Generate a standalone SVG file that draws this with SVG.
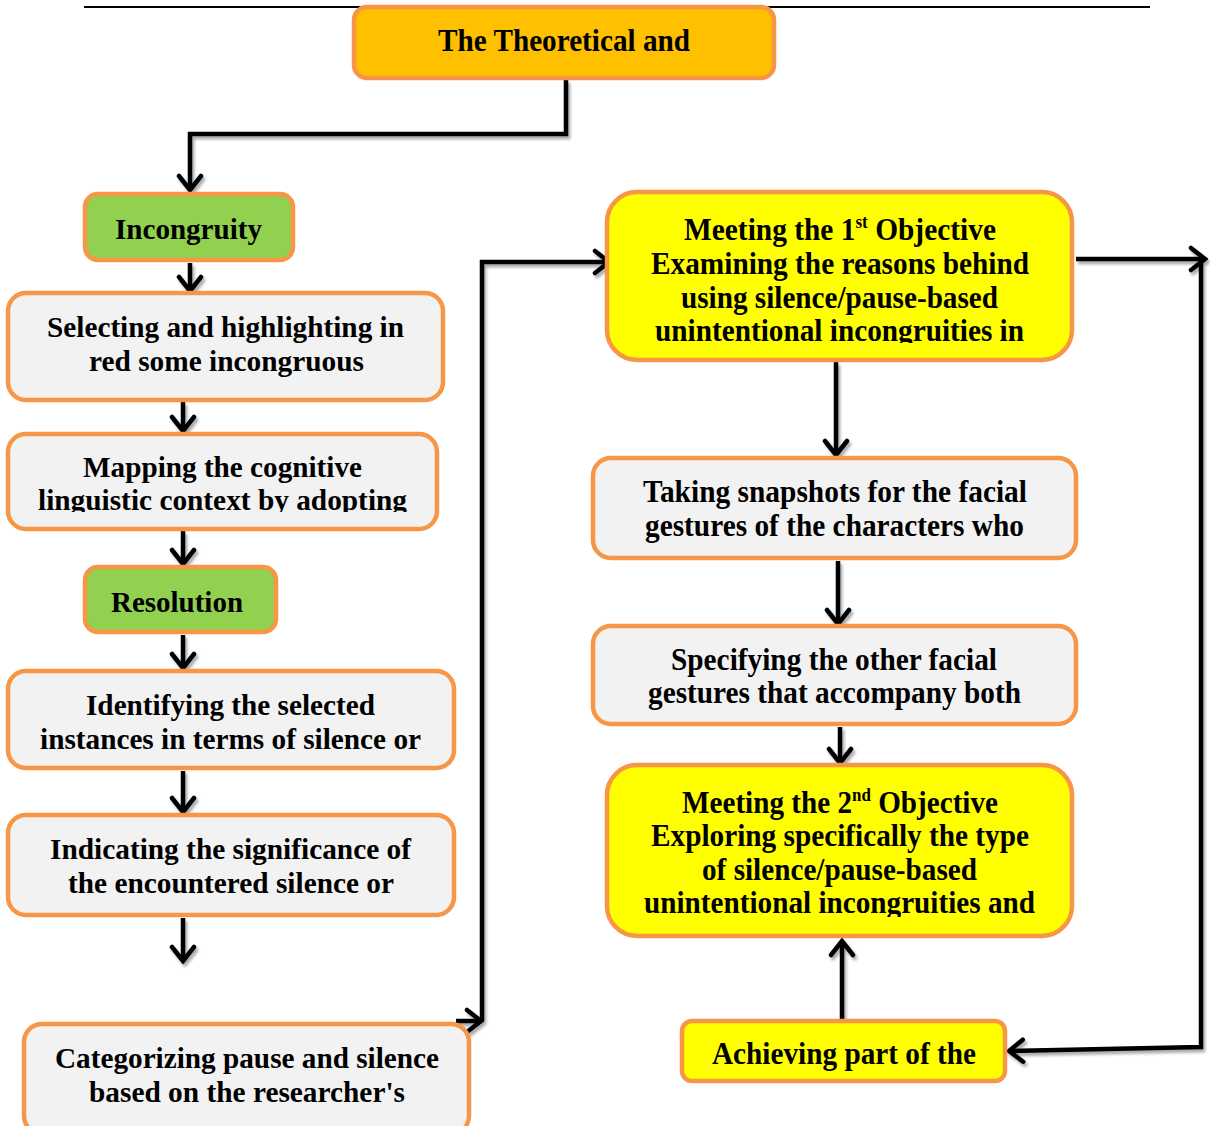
<svg xmlns="http://www.w3.org/2000/svg" width="1210" height="1126" viewBox="0 0 1210 1126">
<style>
.box{stroke:#F79646;stroke-width:4.5}
.gray{fill:#F2F2F2}
.green{fill:#92D050}
.yellow{fill:#FFFF00}
.orange{fill:#FFC000}
.t{font-family:"Liberation Serif","Times New Roman",serif;font-weight:bold;font-size:29px;fill:#000;text-anchor:middle}
.k{font-size:31px}
.c{stroke:#000;stroke-width:4.5;fill:none}
</style>
<defs>
<marker id="ah" markerUnits="userSpaceOnUse" viewBox="0 0 20 28" refX="17" refY="14" markerWidth="20" markerHeight="28" orient="auto">
<path d="M3,3 L17,14 L3,25" fill="none" stroke="#000" stroke-width="4.5" stroke-linejoin="miter" stroke-linecap="round"/>
</marker>
<filter id="sh" x="-10%" y="-10%" width="130%" height="130%">
<feGaussianBlur in="SourceAlpha" stdDeviation="1.5"/>
<feOffset dx="2" dy="3" result="b"/>
<feComponentTransfer><feFuncA type="linear" slope="0.35"/></feComponentTransfer>
<feMerge><feMergeNode/><feMergeNode in="SourceGraphic"/></feMerge>
</filter>
<clipPath id="cMap"><rect x="0" y="433" width="450" height="79"/></clipPath>
<clipPath id="cM1"><rect x="600" y="191" width="480" height="152"/></clipPath>
<clipPath id="cM2"><rect x="600" y="764" width="480" height="153"/></clipPath>
</defs>

<line x1="84" y1="7" x2="1150" y2="7" stroke="#000" stroke-width="2"/>

<g id="connectors" filter="url(#sh)">
<path class="c" d="M566,80 V134 H190 V190" marker-end="url(#ah)"/>
<path class="c" d="M190,263 V291" marker-end="url(#ah)"/>
<path class="c" d="M183,402 V431" marker-end="url(#ah)"/>
<path class="c" d="M183,531 V564" marker-end="url(#ah)"/>
<path class="c" d="M183,635 V668" marker-end="url(#ah)"/>
<path class="c" d="M183,771 V812" marker-end="url(#ah)"/>
<path class="c" d="M183,918 V961" marker-end="url(#ah)"/>
<path class="c" d="M456,1021 H481" marker-end="url(#ah)"/>
<path class="c" d="M482,1021 V262 H609" marker-end="url(#ah)"/>
<path class="c" d="M1076,259 H1205" marker-end="url(#ah)"/>
<path class="c" d="M1201,259 V1047 L1009,1051" marker-end="url(#ah)"/>
<path class="c" d="M836,362 V455" marker-end="url(#ah)"/>
<path class="c" d="M838,561 V624" marker-end="url(#ah)"/>
<path class="c" d="M840,727 V763" marker-end="url(#ah)"/>
<path class="c" d="M842,1019 V941" marker-end="url(#ah)"/>
</g>

<g id="n-top">
<rect class="box orange" x="354" y="7" width="420" height="71" rx="13"/>
<text class="t k" x="564" y="51" textLength="252" lengthAdjust="spacingAndGlyphs">The Theoretical and</text>
</g>

<g id="n-incongruity">
<rect class="box green" x="85" y="194" width="208" height="66" rx="13"/>
<text class="t" x="188.5" y="239" textLength="147" lengthAdjust="spacingAndGlyphs">Incongruity</text>
</g>

<g id="n-selecting">
<rect class="box gray" x="8" y="293" width="435" height="107" rx="18"/>
<text class="t" x="225.5" y="337" textLength="357" lengthAdjust="spacingAndGlyphs">Selecting and highlighting in</text>
<text class="t" x="226.5" y="371" textLength="275" lengthAdjust="spacingAndGlyphs">red some incongruous</text>
</g>

<g id="n-mapping">
<rect class="box gray" x="8" y="434" width="429" height="95" rx="18"/>
<g clip-path="url(#cMap)">
<text class="t" x="222.5" y="477" textLength="279" lengthAdjust="spacingAndGlyphs">Mapping the cognitive</text>
<text class="t" x="222.5" y="510" textLength="369" lengthAdjust="spacingAndGlyphs">linguistic context by adopting</text>
</g>
</g>

<g id="n-resolution">
<rect class="box green" x="85" y="567" width="191" height="65" rx="13"/>
<text class="t" x="177" y="612" textLength="132" lengthAdjust="spacingAndGlyphs">Resolution</text>
</g>

<g id="n-identifying">
<rect class="box gray" x="8" y="671" width="446" height="97" rx="18"/>
<text class="t" x="230.5" y="715" textLength="289" lengthAdjust="spacingAndGlyphs">Identifying the selected</text>
<text class="t" x="230.5" y="749" textLength="381" lengthAdjust="spacingAndGlyphs">instances in terms of silence or</text>
</g>

<g id="n-indicating">
<rect class="box gray" x="8" y="815" width="446" height="100" rx="18"/>
<text class="t" x="230.5" y="859" textLength="361" lengthAdjust="spacingAndGlyphs">Indicating the significance of</text>
<text class="t" x="231" y="893" textLength="326" lengthAdjust="spacingAndGlyphs">the encountered silence or</text>
</g>

<g id="n-categorizing">
<rect class="box gray" x="24" y="1024" width="445" height="110" rx="18"/>
<text class="t" x="247" y="1068" textLength="384" lengthAdjust="spacingAndGlyphs">Categorizing pause and silence</text>
<text class="t" x="247" y="1102" textLength="316" lengthAdjust="spacingAndGlyphs">based on the researcher's</text>
</g>

<g id="n-obj1">
<rect class="box yellow" x="607" y="192" width="465" height="168" rx="30"/>
<g clip-path="url(#cM1)">
<text class="t k" x="840" y="240" textLength="312" lengthAdjust="spacingAndGlyphs">Meeting the 1<tspan font-size="18" baseline-shift="12">st</tspan> Objective</text>
<text class="t k" x="840" y="274" textLength="378" lengthAdjust="spacingAndGlyphs">Examining the reasons behind</text>
<text class="t k" x="839.5" y="308" textLength="317" lengthAdjust="spacingAndGlyphs">using silence/pause-based</text>
<text class="t k" x="839.5" y="341" textLength="369" lengthAdjust="spacingAndGlyphs">unintentional incongruities in</text>
</g>
</g>

<g id="n-taking">
<rect class="box gray" x="593" y="458" width="483" height="100" rx="18"/>
<text class="t k" x="835" y="502" textLength="384" lengthAdjust="spacingAndGlyphs">Taking snapshots for the facial</text>
<text class="t k" x="834.5" y="536" textLength="379" lengthAdjust="spacingAndGlyphs">gestures of the characters who</text>
</g>

<g id="n-specifying">
<rect class="box gray" x="593" y="626" width="483" height="98" rx="18"/>
<text class="t k" x="834" y="670" textLength="326" lengthAdjust="spacingAndGlyphs">Specifying the other facial</text>
<text class="t k" x="834.5" y="703" textLength="373" lengthAdjust="spacingAndGlyphs">gestures that accompany both</text>
</g>

<g id="n-obj2">
<rect class="box yellow" x="607" y="765" width="465" height="171" rx="30"/>
<g clip-path="url(#cM2)">
<text class="t k" x="840" y="813" textLength="316" lengthAdjust="spacingAndGlyphs">Meeting the 2<tspan font-size="18" baseline-shift="12">nd</tspan> Objective</text>
<text class="t k" x="840" y="846" textLength="378" lengthAdjust="spacingAndGlyphs">Exploring specifically the type</text>
<text class="t k" x="839.5" y="880" textLength="275" lengthAdjust="spacingAndGlyphs">of silence/pause-based</text>
<text class="t k" x="839.5" y="913" textLength="391" lengthAdjust="spacingAndGlyphs">unintentional incongruities and</text>
</g>
</g>

<g id="n-achieving">
<rect class="box yellow" x="682" y="1021" width="323" height="60" rx="10"/>
<text class="t k" x="844" y="1064" textLength="264" lengthAdjust="spacingAndGlyphs">Achieving part of the</text>
</g>
</svg>
